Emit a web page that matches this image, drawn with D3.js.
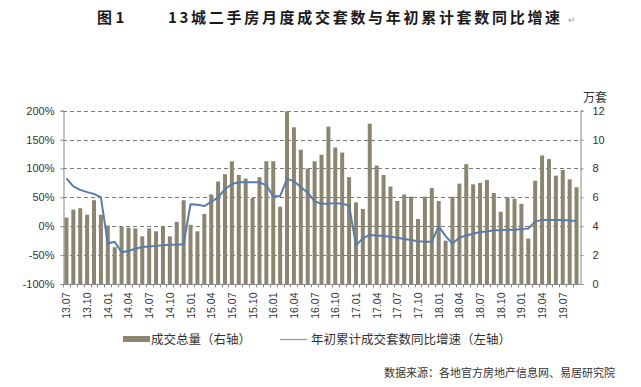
<!DOCTYPE html>
<html>
<head>
<meta charset="utf-8">
<script src="https://cdn.jsdelivr.net/npm/d3@7/dist/d3.min.js"></script>
<style>
    body { margin: 0; background: #fff; }
    svg { display: block; font-family: "Liberation Sans", Arial, sans-serif; }
    .cjk { font-family: "Noto Sans CJK SC", sans-serif; }
</style>
</head>
<body>
<svg id="canvas"></svg>
<script>
"use strict"

// Categories (monthly, 2013.07 - 2019.09)
const months = [
    "13.07", "13.08", "13.09", "13.10", "13.11", "13.12",
    "14.01", "14.02", "14.03", "14.04", "14.05", "14.06", "14.07", "14.08", "14.09", "14.10", "14.11", "14.12",
    "15.01", "15.02", "15.03", "15.04", "15.05", "15.06", "15.07", "15.08", "15.09", "15.10", "15.11", "15.12",
    "16.01", "16.02", "16.03", "16.04", "16.05", "16.06", "16.07", "16.08", "16.09", "16.10", "16.11", "16.12",
    "17.01", "17.02", "17.03", "17.04", "17.05", "17.06", "17.07", "17.08", "17.09", "17.10", "17.11", "17.12",
    "18.01", "18.02", "18.03", "18.04", "18.05", "18.06", "18.07", "18.08", "18.09", "18.10", "18.11", "18.12",
    "19.01", "19.02", "19.03", "19.04", "19.05", "19.06", "19.07", "19.08", "19.09"
];

// 成交总量 (万套, right axis)
const volume = [
    4.6, 5.15, 5.25, 4.8, 5.8, 4.8,
    4.05, 2.55, 3.95, 3.9, 3.85, 3.3, 3.85, 3.65, 4.0, 3.3, 4.3, 5.8,
    4.1, 3.65, 4.85, 6.2, 7.1, 7.6, 8.5, 7.55, 7.3, 5.95, 7.4, 8.5,
    8.5, 5.35, 11.95, 10.85, 9.3, 8.0, 8.5, 8.95, 10.9, 9.45, 9.1, 7.4,
    5.65, 5.2, 11.1, 8.2, 7.55, 6.75, 5.75, 6.2, 6.05, 4.5, 6.05, 6.65,
    5.75, 3.0, 6.05, 6.95, 8.3, 6.9, 7.0, 7.2, 6.3, 5.0, 6.0, 5.9,
    5.55, 3.15, 7.15, 8.9, 8.65, 7.5, 7.9, 7.25, 6.7
];

// 年初累计成交套数同比增速 (%, left axis)
const growth = [
    83, 69, 63, 59, 56, 50,
    -30, -27, -45, -43, -39, -36, -35, -34, -33, -32, -32, -31,
    38, 37, 35, 42, 50, 64, 73, 76, 76, 76, 76, 71,
    52, 52, 82, 78, 68, 58, 43, 39, 39, 40, 39, 36,
    -33, -21, -15, -16, -17, -18, -20, -22, -24, -26, -27, -27,
    0, -17, -30, -20, -16, -13, -10, -9, -7, -7, -6, -6,
    -5, -4, 8, 11, 11, 11, 11, 10, 9
];

// Tick labels
const xTickLabels = ["13.07", "13.10", "14.01", "14.04", "14.07", "14.10", "15.01", "15.04", "15.07", "15.10",
    "16.01", "16.04", "16.07", "16.10", "17.01", "17.04", "17.07", "17.10", "18.01", "18.04", "18.07", "18.10",
    "19.01", "19.04", "19.07"];
const leftTicks = [-100, -50, 0, 50, 100, 150, 200];
const rightTicks = [0, 2, 4, 6, 8, 10, 12];

// Texts
const titleLabel = "图 1";
const titleText = "13城二手房月度成交套数与年初累计套数同比增速";
const barLegend = "成交总量（右轴）";
const lineLegend = "年初累计成交套数同比增速（左轴）";
const sourceText = "数据来源：各地官方房地产信息网、易居研究院";
const rightUnit = "万套";

// Layout
const canvasWidth = 641;
const canvasHeight = 387;
const plot = { left: 63, right: 580, top: 110.7, bottom: 284 };
const barColor = "#8c8670";
const lineColor = "#5b7cab";
const axisColor = "#8a8a8a";
const textColor = "#333";

const canvas = d3.select("#canvas")
    .attr("width", canvasWidth)
    .attr("height", canvasHeight);

// Scales
const x = d3.scaleBand()
    .domain(months)
    .range([plot.left, plot.right])
    .paddingInner(0.42)
    .paddingOuter(0.21);

const yLeft = d3.scaleLinear()
    .domain([-100, 200])
    .range([plot.bottom, plot.top]);

const yRight = d3.scaleLinear()
    .domain([0, 12])
    .range([plot.bottom, plot.top]);

// Title
const title = canvas.append("g").attr("class", "cjk")
    .attr("fill", "#1a1a1a")
    .attr("font-size", 15)
    .attr("font-weight", "bold");
title.append("text")
    .attr("x", 97).attr("y", 23)
    .text(titleLabel);
title.append("text")
    .attr("x", 168).attr("y", 23)
    .attr("letter-spacing", 2.7)
    .text(titleText);
title.append("text")
    .attr("x", 568).attr("y", 23)
    .attr("font-size", 9)
    .attr("font-weight", "normal")
    .attr("fill", "#999")
    .text("↵");

// Dashed gridlines (behind bars)
canvas.append("g")
    .selectAll("line")
    .data(leftTicks.filter(d => d > -100))
    .enter()
    .append("line")
    .attr("x1", plot.left)
    .attr("x2", plot.right)
    .attr("y1", d => Math.round(yLeft(d)) + 0.5)
    .attr("y2", d => Math.round(yLeft(d)) + 0.5)
    .attr("stroke", "#7a7a7a")
    .attr("stroke-width", 1)
    .attr("stroke-dasharray", "4,3");

// Bars
canvas.append("g")
    .selectAll("rect")
    .data(volume)
    .enter()
    .append("rect")
    .attr("x", (d, i) => x(months[i]))
    .attr("width", x.bandwidth())
    .attr("y", d => yRight(d))
    .attr("height", d => yRight(0) - yRight(d))
    .attr("fill", barColor);

// Line
canvas.append("path")
    .datum(growth)
    .attr("fill", "none")
    .attr("stroke", lineColor)
    .attr("stroke-width", 2)
    .attr("stroke-linejoin", "round")
    .attr("d", d3.line()
        .x((d, i) => x(months[i]) + x.bandwidth() / 2)
        .y(d => yLeft(d)));

// Left axis
const leftAxis = canvas.append("g")
    .attr("transform", `translate(${plot.left + 0.5},0)`)
    .call(d3.axisLeft(yLeft)
        .tickValues(leftTicks)
        .tickFormat(d => d + "%")
        .tickSize(3)
        .tickPadding(6));

// Right axis
const rightAxis = canvas.append("g")
    .attr("transform", `translate(${plot.right + 0.5},0)`)
    .call(d3.axisRight(yRight)
        .tickValues(rightTicks)
        .tickSize(3)
        .tickPadding(9));

[leftAxis, rightAxis].forEach(axis => {
    axis.select(".domain").attr("stroke", axisColor);
    axis.selectAll(".tick line").attr("stroke", axisColor);
    axis.selectAll(".tick text")
        .attr("fill", textColor)
        .attr("font-size", 11);
});

// Bottom axis (baseline, category ticks and rotated labels)
const bottomAxis = canvas.append("g")
    .attr("transform", `translate(0,${plot.bottom + 0.5})`);

bottomAxis.append("line")
    .attr("x1", plot.left)
    .attr("x2", plot.right)
    .attr("stroke", axisColor);

bottomAxis.selectAll("line.cat")
    .data(months)
    .enter()
    .append("line")
    .attr("class", "cat")
    .attr("x1", d => Math.round(x(d) - x.step() * 0.21) + 0.5)
    .attr("x2", d => Math.round(x(d) - x.step() * 0.21) + 0.5)
    .attr("y1", 0)
    .attr("y2", 3)
    .attr("stroke", axisColor);

bottomAxis.selectAll("text")
    .data(xTickLabels)
    .enter()
    .append("text")
    .attr("transform", d => `translate(${x(d) + x.bandwidth() / 2 + 4},${8}) rotate(-90)`)
    .attr("text-anchor", "end")
    .attr("font-size", 10.5)
    .attr("fill", textColor)
    .text(d => d);

// Unit label of the right axis
canvas.append("text")
    .attr("class", "cjk")
    .attr("x", 583)
    .attr("y", 102)
    .attr("font-size", 12)
    .attr("fill", textColor)
    .text(rightUnit);

// Legend
const legend = canvas.append("g")
    .attr("class", "cjk")
    .attr("font-size", 12.5)
    .attr("fill", textColor);

legend.append("rect")
    .attr("x", 123).attr("y", 336)
    .attr("width", 27).attr("height", 6)
    .attr("fill", barColor);
legend.append("text")
    .attr("x", 151).attr("y", 344)
    .text(barLegend);

legend.append("line")
    .attr("x1", 280).attr("x2", 307)
    .attr("y1", 339.5).attr("y2", 339.5)
    .attr("stroke", "#8a9ab0")
    .attr("stroke-width", 1.2);
legend.append("text")
    .attr("x", 311).attr("y", 344)
    .text(lineLegend);

// Source note
canvas.append("text")
    .attr("class", "cjk")
    .attr("x", 615)
    .attr("y", 377)
    .attr("text-anchor", "end")
    .attr("font-size", 11)
    .attr("fill", "#333")
    .text(sourceText);
</script>
</body>
</html>
